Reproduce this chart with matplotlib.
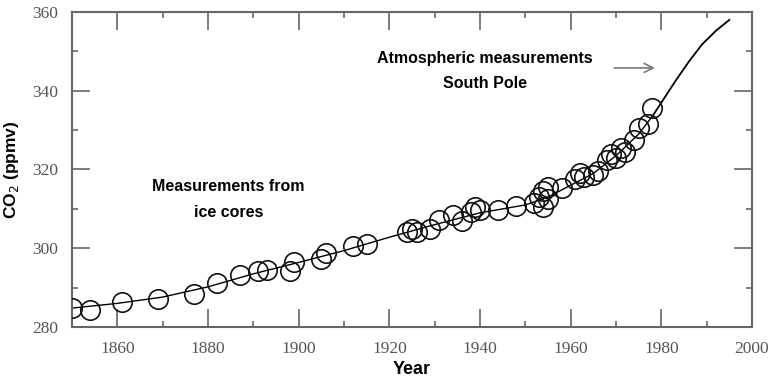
import numpy as np
import matplotlib
matplotlib.use("Agg")
import matplotlib.pyplot as plt
from matplotlib.ticker import MultipleLocator


# Ice core samples (circles)
core_years = [1850, 1854, 1861, 1869, 1877, 1882, 1887, 1891, 1893, 1898, 1899,
              1905, 1906, 1912, 1915, 1924, 1925, 1926, 1929, 1931, 1934, 1936,
              1938, 1939, 1940, 1944, 1948, 1952, 1953, 1954, 1954, 1955, 1955,
              1958, 1961, 1962, 1963, 1965, 1966, 1968, 1969, 1970, 1971, 1972,
              1974, 1975, 1977, 1978]
core_co2 = [284.8, 284.4, 286.3, 287.2, 288.4, 291.2, 293.2, 294.3, 294.6, 294.2, 296.5,
            297.3, 298.8, 300.5, 301.0, 304.0, 304.8, 304.2, 305.0, 307.3, 308.5, 307.0,
            309.2, 310.5, 309.8, 309.6, 310.8, 311.5, 313.0, 310.5, 314.5, 312.5, 315.5,
            315.2, 317.5, 319.0, 318.0, 318.5, 319.5, 322.5, 324.0, 323.0, 325.5, 324.5,
            327.5, 330.5, 331.5, 335.5]

# smooth fit through the cores
fit_years = [1850, 1860, 1870, 1880, 1890, 1900, 1910, 1920, 1930, 1940, 1950,
             1955, 1960, 1965, 1970, 1975, 1978]
fit_co2 = [284.8, 286.0, 287.6, 290.2, 293.5, 296.4, 299.4, 302.8, 306.0, 309.0, 311.0,
           313.0, 316.0, 319.0, 323.5, 329.0, 333.5]

# South Pole atmospheric record
atm_years = [1978, 1980, 1983, 1986, 1989, 1992, 1995]
atm_co2 = [333.5, 337.0, 342.3, 347.3, 351.8, 355.2, 358.0]

x_ticks = [1860, 1880, 1900, 1920, 1940, 1960, 1980, 2000]
y_ticks = [280, 300, 320, 340, 360]

label_font = ["Liberation Sans", "DejaVu Sans"]
tick_font = ["Liberation Serif", "DejaVu Serif"]
grey = "#666666"


fig = plt.figure(figsize=(7.71, 3.91), dpi=100)
ax = fig.add_axes([0.0934, 0.1637, 0.882, 0.8056])

ax.plot(fit_years, fit_co2, color="black", lw=1.0, zorder=2)
ax.plot(atm_years, atm_co2, color="black", lw=1.3, zorder=2)
ax.plot(core_years, core_co2, "o", ms=14, mfc="none", mec="#111111", mew=1.2, zorder=3)

ax.set_xlim(1850, 2000)
ax.set_ylim(280, 360)
ax.set_xticks(x_ticks)
ax.set_yticks(y_ticks)
ax.xaxis.set_minor_locator(MultipleLocator(10))
ax.yaxis.set_minor_locator(MultipleLocator(10))

ax.tick_params(which="both", direction="in", top=True, right=True, color=grey,
               labelcolor="#555555", width=1.2)
ax.tick_params(which="major", length=13, pad=10)
ax.tick_params(which="minor", length=4.5)
for lab in ax.get_xticklabels() + ax.get_yticklabels():
    lab.set_family(tick_font)
    lab.set_fontsize(12.5)
for sp in ax.spines.values():
    sp.set_color(grey)
    sp.set_linewidth(1.5)

ax.set_xlabel("Year", family=label_font, fontsize=13, fontweight="bold", labelpad=3)
ax.set_ylabel("CO$_2$ (ppmv)", family=label_font, fontsize=12.5, fontweight="bold", labelpad=8)

ax.text(1884.5, 312.3, "Measurements from\nice cores", family=label_font, fontsize=11.5,
        fontweight="bold", ha="center", va="center", linespacing=1.9)
ax.text(1941, 345.0, "Atmospheric measurements\nSouth Pole", family=label_font, fontsize=11.5,
        fontweight="bold", ha="center", va="center", linespacing=1.9)
ax.annotate("", xy=(1979.2, 345.8), xytext=(1969, 345.8),
            arrowprops=dict(arrowstyle="->", color="#777777", lw=1.2, mutation_scale=16))

fig.savefig("out.png", dpi=100)
